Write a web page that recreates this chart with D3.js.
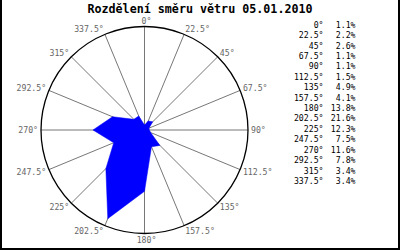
<!DOCTYPE html>
<html>
<head>
<meta charset="utf-8">
<script src="https://cdn.jsdelivr.net/npm/d3@7"></script>
<style>
  body { margin: 0; background: #fff; }
  svg { display: block; }
  text { font-family: "DejaVu Sans Mono", monospace; }
</style>
</head>
<body>
<svg width="400" height="250"></svg>
<script>
var title = "Rozdělení směru větru 05.01.2010";
var directions = [0, 22.5, 45, 67.5, 90, 112.5, 135, 157.5, 180, 202.5, 225, 247.5, 270, 292.5, 315, 337.5];
var percents = [1.1, 2.2, 2.6, 1.1, 1.1, 1.5, 4.9, 4.1, 13.8, 21.6, 12.3, 7.5, 11.6, 7.8, 3.4, 3.4];

var svg = d3.select("svg");
var cx = 144.5, cy = 130, R = 103.5;

// percent -> radius
var r = d3.scaleLinear().domain([0, 23.3]).range([0, R]);
var rad = function(a) { return a * Math.PI / 180; };

// frame
svg.append("path")
   .attr("d", "M1,0 V249 H399 V0")
   .attr("fill", "none")
   .attr("stroke", "#000")
   .attr("stroke-width", 2);

svg.append("text")
   .attr("x", 200).attr("y", 8.5)
   .attr("text-anchor", "middle")
   .attr("dominant-baseline", "central")
   .style("font-size", "11.7px")
   .style("font-weight", "bold")
   .text(title);

var g = svg.append("g").attr("transform", "translate(" + cx + "," + cy + ")");

// spokes
g.selectAll("line.spoke")
  .data(directions)
  .enter()
  .append("line")
  .attr("x1", 0).attr("y1", 0)
  .attr("x2", function(d) { return R * Math.sin(rad(d)); })
  .attr("y2", function(d) { return -R * Math.cos(rad(d)); })
  .attr("stroke", "#777")
  .attr("stroke-width", 1);

// spoke labels
g.selectAll("text.lbl")
  .data(directions)
  .enter()
  .append("text")
  .attr("x", function(d) { return R * Math.sin(rad(d)) + 3 * Math.sin(rad(d)); })
  .attr("y", function(d) { return -R * Math.cos(rad(d)) - 6 * Math.cos(rad(d)); })
  .attr("text-anchor", function(d) {
     if (d == 0 || d == 180) return "middle";
     return d < 180 ? "start" : "end";
  })
  .attr("dx", function(d) { return (d == 0 || d == 180) ? 2 : 0; })
  .attr("dominant-baseline", "central")
  .attr("fill", "#666")
  .style("font-size", "8.2px")
  .text(function(d) { return d + "°"; });

// rose polygon
var line = d3.lineRadial()
  .angle(function(d, i) { return rad(directions[i]); })
  .radius(function(d) { return r(d); })
  .curve(d3.curveLinearClosed);

g.append("path")
  .datum(percents)
  .attr("d", line)
  .attr("fill", "#0000ff")
  .attr("stroke", "#0000ff")
  .attr("stroke-width", 0.5);

// outer circle
g.append("circle")
  .attr("r", R)
  .attr("fill", "none")
  .attr("stroke", "#000")
  .attr("stroke-width", 1.3);

// legend
var y = d3.scaleLinear().domain([0, directions.length - 1]).range([24.7, 181]);
var leg = svg.append("g");
leg.selectAll("text.ang")
  .data(directions)
  .enter()
  .append("text")
  .attr("x", 323.5)
  .attr("y", function(d, i) { return y(i); })
  .attr("text-anchor", "end")
  .attr("dominant-baseline", "central")
  .style("font-size", "8.2px")
  .text(function(d) { return d + "°"; });

leg.selectAll("text.pct")
  .data(percents)
  .enter()
  .append("text")
  .attr("x", 355.5)
  .attr("y", function(d, i) { return y(i); })
  .attr("text-anchor", "end")
  .attr("dominant-baseline", "central")
  .style("font-size", "8.2px")
  .text(function(d) { return d.toFixed(1) + "%"; });
</script>
</body>
</html>
